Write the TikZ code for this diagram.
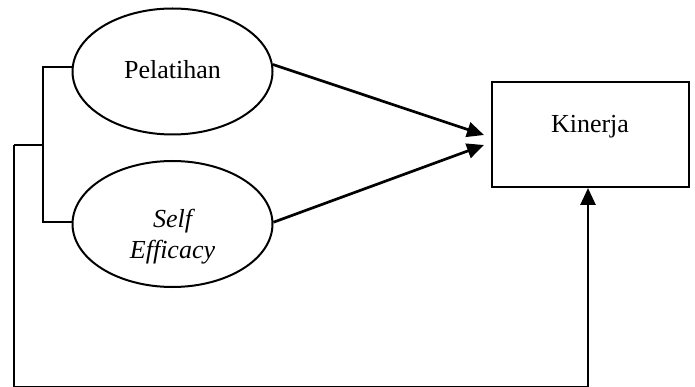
\documentclass[tikz,border=0pt]{standalone}
\usepackage{fontspec}
\setmainfont{Liberation Serif}
\usetikzlibrary{arrows.meta,shapes.geometric}
\begin{document}
\begin{tikzpicture}[x=1pt,y=-1pt,
  oval/.style={draw, ellipse, line width=2pt, minimum width=200pt, minimum height=126pt, inner sep=0pt},
  rbox/.style={draw, rectangle, line width=2pt, minimum width=197pt, minimum height=105pt, inner sep=0pt},
  txt/.style={font=\fontsize{26}{32}\selectfont, inner sep=0pt, align=center},
  link/.style={line width=2pt},
  loopline/.style={line width=2.6pt},
  arr/.style={line width=2.7pt, -{Triangle[length=17pt,width=15pt]}}]
\useasboundingbox (0,0) rectangle (695,387);
\node[oval] (p) at (172.5,71.5) {};
\node[oval] (s) at (172.5,224) {};
\node[rbox] (k) at (590.5,134.5) {};
\node[txt] (pt) at (172.5,70) {Pelatihan};
\node[txt] (st) at (172.5,237) {\itshape Self\\[-1pt]\itshape Efficacy};
\node[txt] (kt) at (590,127) {Kinerja};
% bracket
\coordinate (b1) at (43,67);
\coordinate (b2) at (43,222);
\coordinate (bm) at (43,145);
\coordinate (l0) at (14,145);
\coordinate (l1) at (14,387.3);
\coordinate (r1) at (588,387.3);
\coordinate (t1) at (484,135);
\coordinate (t2) at (484,145);
\draw[link] (p.west |- b1) -- (b1) -- (b2) -- (s.west |- b2);
\draw[link] (bm) -- (l0);
\draw[loopline] (l0) -- (l1) -- (r1);
\draw[arr] (r1) -- (r1 |- k.south);
\draw[arr] (p.4) -- (t1);
\draw[arr] (s.1) -- (t2);
\end{tikzpicture}
\end{document}
